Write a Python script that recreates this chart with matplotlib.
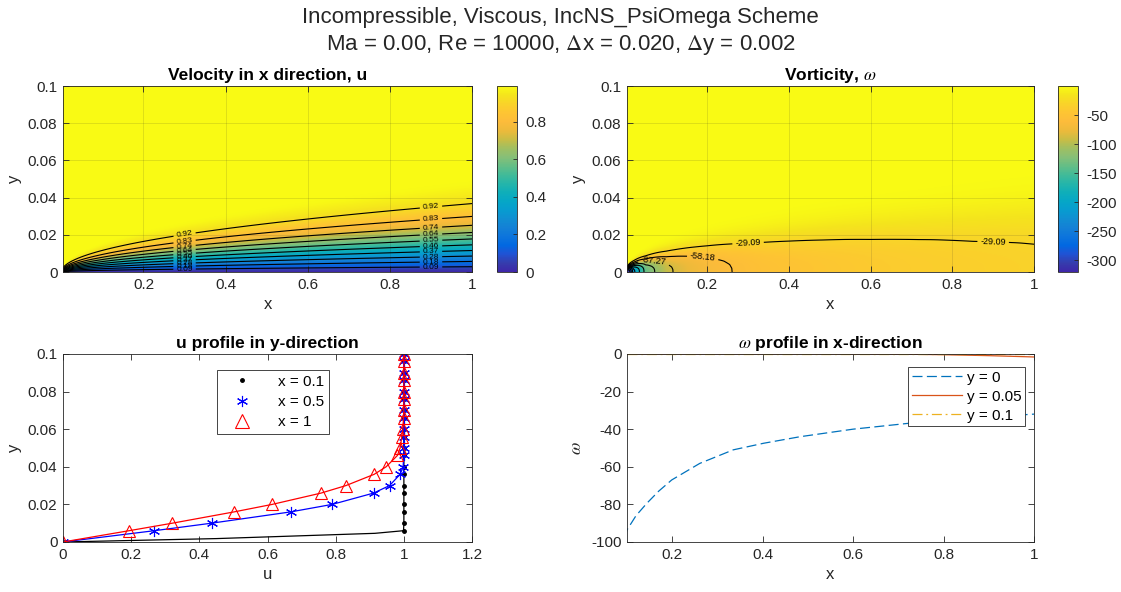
import numpy as np
import matplotlib
matplotlib.use('Agg')
import matplotlib.pyplot as plt
from matplotlib.colors import LinearSegmentedColormap
from matplotlib.lines import Line2D

plt.rcParams['font.family'] = ['Liberation Sans', 'DejaVu Sans']
plt.rcParams['mathtext.fontset'] = 'stix'
plt.rcParams['axes.unicode_minus'] = False

# ---- u profiles (sampled points along y) ----
Y_MARK = [0.0, 0.006, 0.010, 0.016, 0.020, 0.026, 0.030, 0.036, 0.040, 0.046, 0.050,
          0.056, 0.060, 0.066, 0.070, 0.076, 0.080, 0.086, 0.090, 0.096, 0.100]
U_X05 = [0.0, 0.268, 0.436, 0.668, 0.790, 0.911, 0.958, 0.989, 0.998, 1.0, 1.0,
         1.0, 1.0, 1.0, 1.0, 1.0, 1.0, 1.0, 1.0, 1.0, 1.0]
U_X1 = [0.0, 0.194, 0.321, 0.502, 0.614, 0.757, 0.830, 0.913, 0.948, 0.981, 0.989,
        0.994, 0.997, 0.999, 1.0, 1.0, 1.0, 1.0, 1.0, 1.0, 1.0]
# x = 0.1 profile has two extra points inside the thin layer
Y_X01 = [0.0, 0.0018, 0.0046] + Y_MARK[1:]
U_X01 = [0.0, 0.45, 0.915, 0.999] + [1.0] * 19

# ---- wall vorticity (y = 0) and the y = 0.05 / 0.1 lines ----
W0_X = [0.004, 0.01, 0.02, 0.05, 0.1, 0.12, 0.144, 0.17, 0.199, 0.261, 0.335, 0.402,
        0.483, 0.6, 0.718, 0.85, 1.0]
W0 = [-320, -300, -212, -134, -93.6, -86, -79.4, -73, -67, -58.2, -51, -47.5,
      -44, -40, -37, -34.2, -32]
W05_X = [0.1, 0.5, 0.7, 0.8, 0.9, 1.0]
W05 = [0.0, 0.0, -0.1, -0.4, -0.9, -1.6]
W10_X = [0.1, 1.0]
W10 = [0.0, 0.0]

# Blasius shear profile f''(eta) used for the shape of the vorticity layer
BL_ETA = [0, 0.4, 0.8, 1.2, 1.6, 2.0, 2.4, 2.8, 3.2, 3.6, 4.0, 4.4, 4.8, 5.2, 5.6, 6.0, 7.0, 8.0]
BL_FPP = [0.3321, 0.3315, 0.3274, 0.3166, 0.2967, 0.2668, 0.2281, 0.1840, 0.1391, 0.0981,
          0.0642, 0.0389, 0.0219, 0.0114, 0.0054, 0.0024, 0.0002, 0.0]

U_LEVELS = [0.092, 0.184, 0.276, 0.368, 0.460, 0.552, 0.644, 0.736, 0.828, 0.920]
W_LEVELS_PLAIN = [-290.91, -261.82, -232.73, -203.64, -174.55, -145.45, -116.36]
W_LEVELS_LABEL = [-87.27, -58.18, -29.09]

RE = 10000
XMIN = 0.004

parula = LinearSegmentedColormap.from_list('parula', [
    [0.2422, 0.1504, 0.6603], [0.2081, 0.2386, 0.6771], [0.1253, 0.3242, 0.8303],
    [0.0060, 0.4086, 0.8828], [0.0498, 0.4586, 0.8641], [0.0779, 0.5040, 0.8384],
    [0.0641, 0.5570, 0.8240], [0.0265, 0.6137, 0.8135], [0.0228, 0.6535, 0.7768],
    [0.0590, 0.6838, 0.7254], [0.1453, 0.7098, 0.6646], [0.2586, 0.7317, 0.5954],
    [0.3953, 0.7459, 0.5244], [0.5300, 0.7491, 0.4661], [0.6300, 0.7480, 0.3800],
    [0.7900, 0.7400, 0.2700], [0.9300, 0.7300, 0.2300], [0.9900, 0.7350, 0.2300],
    [0.9950, 0.7700, 0.2000], [0.9789, 0.8271, 0.1633], [0.9589, 0.8949, 0.1132],
    [0.9769, 0.9839, 0.0805]])

# fields on a fine grid: self-similar in y / sqrt(x)
xg = np.linspace(XMIN, 1.0, 500)
yg = np.linspace(0.0, 0.1, 400)
XX, YY = np.meshgrid(xg, yg)
ETA1 = YY / np.sqrt(XX)
U = np.interp(ETA1, Y_MARK, U_X1)
shape = np.interp(ETA1 * np.sqrt(RE), BL_ETA, BL_FPP) / BL_FPP[0]
W = np.interp(XX, W0_X, W0) * shape

AXC = (0.15, 0.15, 0.15)
TICK_FS = 11
LABEL_FS = 12
TITLE_FS = 12.5


def matlab_axes(ax):
    for s in ax.spines.values():
        s.set_color(AXC)
        s.set_linewidth(0.6)
    ax.tick_params(direction='in', top=True, right=True, length=4, width=0.6,
                   labelsize=TICK_FS, colors=AXC, pad=4)


fig = plt.figure(figsize=(11.21, 5.92), dpi=100)
fig.suptitle('Incompressible, Viscous, IncNS_PsiOmega Scheme\n'
             r'Ma = 0.00, Re = 10000, $\Delta$x = 0.020, $\Delta$y = 0.002',
             fontsize=16, color=AXC, y=0.988, linespacing=1.3)

# ---- velocity field ----
ax1 = fig.add_axes([0.0562, 0.5405, 0.3649, 0.3142])
im1 = ax1.imshow(U, extent=[XMIN, 1, 0, 0.1], origin='lower', aspect='auto',
                 cmap=parula, vmin=0, vmax=0.99, interpolation='bilinear')
cs1 = ax1.contour(XX, YY, U, levels=U_LEVELS, colors='k', linewidths=0.8)
pos1 = []
for xl in (0.3, 0.9):
    for lv in U_LEVELS:
        pos1.append((xl, np.sqrt(xl) * np.interp(lv, U_X1[:15], Y_MARK[:15])))
ax1.clabel(cs1, fmt='%.2f', fontsize=6, inline=True, inline_spacing=3, manual=pos1)
ax1.set_xlim(XMIN, 1)
ax1.set_ylim(0, 0.1)
ax1.set_xticks([0.2, 0.4, 0.6, 0.8, 1])
ax1.set_xticklabels(['0.2', '0.4', '0.6', '0.8', '1'])
ax1.set_yticks([0, 0.02, 0.04, 0.06, 0.08, 0.1])
ax1.set_yticklabels(['0', '0.02', '0.04', '0.06', '0.08', '0.1'])
ax1.grid(True, color=AXC, alpha=0.15, linewidth=0.6)
ax1.set_xlabel('x', fontsize=LABEL_FS, color=AXC)
ax1.set_ylabel('y', fontsize=LABEL_FS, color=AXC)
ax1.set_title('Velocity in x direction, u', fontsize=TITLE_FS, fontweight='bold', pad=4)
matlab_axes(ax1)
cax1 = fig.add_axes([0.4434, 0.5405, 0.0178, 0.3142])
cb1 = fig.colorbar(im1, cax=cax1, ticks=[0, 0.2, 0.4, 0.6, 0.8])
cb1.ax.set_yticklabels(['0', '0.2', '0.4', '0.6', '0.8'])
cb1.outline.set_edgecolor(AXC)
cb1.outline.set_linewidth(0.6)
cax1.tick_params(direction='in', length=3, width=0.6, labelsize=TICK_FS, colors=AXC, pad=6)

# ---- vorticity field ----
ax2 = fig.add_axes([0.5593, 0.5405, 0.3631, 0.3142])
im2 = ax2.imshow(W, extent=[XMIN, 1, 0, 0.1], origin='lower', aspect='auto',
                 cmap=parula, vmin=-320, vmax=0, interpolation='bilinear')
ax2.contour(XX, YY, W, levels=W_LEVELS_PLAIN, colors='k', linewidths=0.8,
            linestyles='solid')
cs2 = ax2.contour(XX, YY, W, levels=W_LEVELS_LABEL, colors='k', linewidths=0.8,
                  linestyles='solid')
pos2 = [(0.07, 0.005), (0.19, 0.009), (0.3, 0.017), (0.9, 0.016)]
ax2.clabel(cs2, fmt='%.2f', fontsize=6.5, inline=True, inline_spacing=3, manual=pos2)
ax2.set_xlim(XMIN, 1)
ax2.set_ylim(0, 0.1)
ax2.set_xticks([0.2, 0.4, 0.6, 0.8, 1])
ax2.set_xticklabels(['0.2', '0.4', '0.6', '0.8', '1'])
ax2.set_yticks([0, 0.02, 0.04, 0.06, 0.08, 0.1])
ax2.set_yticklabels(['0', '0.02', '0.04', '0.06', '0.08', '0.1'])
ax2.grid(True, color=AXC, alpha=0.15, linewidth=0.6)
ax2.set_xlabel('x', fontsize=LABEL_FS, color=AXC)
ax2.set_ylabel('y', fontsize=LABEL_FS, color=AXC)
ax2.set_title(r'Vorticity, $\omega$', fontsize=TITLE_FS, fontweight='bold', pad=4)
matlab_axes(ax2)
cax2 = fig.add_axes([0.9438, 0.5405, 0.0178, 0.3142])
cb2 = fig.colorbar(im2, cax=cax2, ticks=[-300, -250, -200, -150, -100, -50])
cb2.outline.set_edgecolor(AXC)
cb2.outline.set_linewidth(0.6)
cax2.tick_params(direction='in', length=3, width=0.6, labelsize=TICK_FS, colors=AXC, pad=6)

# ---- u profiles ----
ax3 = fig.add_axes([0.0562, 0.0845, 0.3649, 0.3176])
ax3.plot(U_X01, Y_X01, color='k', lw=0.9, marker='.', ms=5,
         markevery=[0] + list(range(3, len(Y_X01))))
ax3.plot(U_X05, Y_MARK, color='b', lw=0.9, marker=(6, 2, 0), ms=8, mew=0.8)
ax3.plot(U_X1, Y_MARK, color='r', lw=0.9, marker='^', ms=9, mfc='none', mew=0.8)
ax3.set_xlim(0, 1.2)
ax3.set_ylim(0, 0.1)
ax3.set_xticks([0, 0.2, 0.4, 0.6, 0.8, 1, 1.2])
ax3.set_xticklabels(['0', '0.2', '0.4', '0.6', '0.8', '1', '1.2'])
ax3.set_yticks([0, 0.02, 0.04, 0.06, 0.08, 0.1])
ax3.set_yticklabels(['0', '0.02', '0.04', '0.06', '0.08', '0.1'])
ax3.set_xlabel('u', fontsize=LABEL_FS, color=AXC)
ax3.set_ylabel('y', fontsize=LABEL_FS, color=AXC)
ax3.set_title('u profile in y-direction', fontsize=TITLE_FS, fontweight='bold', pad=4)
matlab_axes(ax3)
hnd = [Line2D([], [], ls='none', color='k', marker='.', ms=5),
       Line2D([], [], ls='none', color='b', marker=(6, 2, 0), ms=8, mew=0.8),
       Line2D([], [], ls='none', color='r', marker='^', ms=10, mfc='none', mew=0.8)]
lg3 = ax3.legend(hnd, ['x = 0.1', 'x = 0.5', 'x = 1'], loc='upper left',
                 bbox_to_anchor=(0.3765, 0.915), borderaxespad=0, fontsize=11,
                 fancybox=False, framealpha=1, edgecolor=AXC, handlelength=2.7,
                 handletextpad=1.0, borderpad=0.3, labelspacing=0.42)
lg3.get_frame().set_linewidth(0.6)

# ---- vorticity profiles ----
ax4 = fig.add_axes([0.5593, 0.0845, 0.3631, 0.3176])
ax4.plot(W0_X, W0, color=(0, 0.447, 0.741), lw=0.9, dashes=(8, 3.5), label='y = 0')
ax4.plot(W05_X, W05, color=(0.85, 0.325, 0.098), lw=0.9, label='y = 0.05')
ax4.plot(W10_X, W10, color=(0.929, 0.694, 0.125), lw=0.9, dashes=(8, 3, 1.5, 3),
         label='y = 0.1')
ax4.set_xlim(0.1, 1)
ax4.set_ylim(-100, 0)
ax4.set_xticks([0.2, 0.4, 0.6, 0.8, 1])
ax4.set_xticklabels(['0.2', '0.4', '0.6', '0.8', '1'])
ax4.set_yticks([-100, -80, -60, -40, -20, 0])
ax4.set_xlabel('x', fontsize=LABEL_FS, color=AXC)
ax4.set_ylabel(r'$\omega$', fontsize=13, color=AXC)
ax4.set_title(r'$\omega$ profile in x-direction', fontsize=TITLE_FS, fontweight='bold', pad=4)
matlab_axes(ax4)
lg4 = ax4.legend(loc='upper left', bbox_to_anchor=(0.69, 0.931), borderaxespad=0,
                 fontsize=11, fancybox=False, framealpha=1, edgecolor=AXC,
                 handlelength=3.3, handletextpad=0.3, borderpad=0.25, labelspacing=0.32)
lg4.get_frame().set_linewidth(0.6)

fig.savefig('out.png', dpi=100)
